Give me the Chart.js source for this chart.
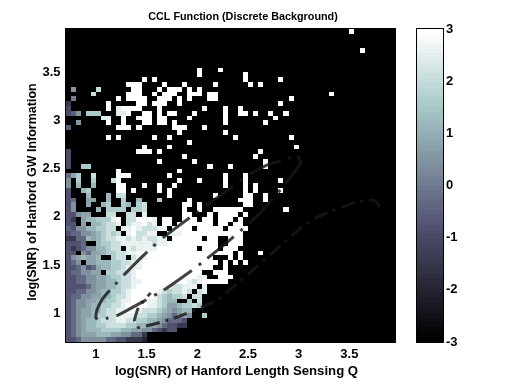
<!DOCTYPE html>
<html>
<head>
<meta charset="utf-8">
<script src="https://cdn.jsdelivr.net/npm/chart.js@4/dist/chart.umd.js"></script>
<style>
html, body { margin: 0; padding: 0; background: #fff; }
canvas { position: absolute; top: 0; }
#map { left: 0; }
#bar { left: 400px; }
</style>
</head>
<body>
<canvas id="map" width="400" height="384"></canvas>
<canvas id="bar" width="112" height="384"></canvas>
<script>
var titleText = 'CCL Function (Discrete Background)';
var xTitle = 'log(SNR) of Hanford Length Sensing Q';
var yTitle = 'log(SNR) of Hanford GW Information';
var xTicks = [1, 1.5, 2, 2.5, 3, 3.5];
var yTicks = [1, 1.5, 2, 2.5, 3, 3.5];
var barTicks = [-3, -2, -1, 0, 1, 2, 3];

// bins are 0.05 wide in both directions
var binMin = 0.7, binMax = 3.95, binSize = 0.05, binCount = 65;

// key used in the rows below -> CCL value
var levelKey = '.123456789aw';
var levelVal = [-3, -2, -1.5, -0.8, -0.3, 0.4, 0.8, 1.2, 1.6, 2.1, 2.6, 3];

// top part of the map, saturated cells only: column numbers per row (row 0 is the top)
var whiteCols = [
    [56], [], [], [], [58], [], [], [],
    [26, 30],
    [26, 35],
    [15, 17, 35, 42],
    [12, 13, 14, 19, 23, 29, 36, 38],
    [13, 14, 18, 20, 21, 22, 24, 26],
    [12, 13, 14, 17, 19, 20, 21, 24, 25, 26, 28, 29, 52],
    [10, 12, 13, 14, 15, 18, 19, 20, 22, 24, 28, 29, 44],
    [8, 14, 15, 17, 18, 19, 22, 42],
    [8, 11, 12, 13, 14, 18, 27, 31, 34],
    [12, 15, 16, 18, 20, 21, 25, 31, 34, 35, 37, 40, 43],
    [11, 14, 15, 16, 18, 19, 24, 31, 41],
    [8, 11, 15, 16, 18, 19, 21, 31, 39],
    [10, 11, 12, 14, 21, 22, 23, 27],
    [22, 31],
    [8, 10, 17, 20, 33, 44],
    [24],
    [15, 20, 45],
    [14, 15, 16, 18, 38],
    [23, 37],
    [18, 25, 39],
    [28, 32, 39],
    [10, 22]
];
// top part, the few cells that are not saturated: row, column, value
var tintRows = [12, 12, 13, 14, 15, 16, 16, 17, 17, 17, 17, 17, 17, 17, 17, 18, 18, 19, 20, 25, 26, 27, 28, 28, 28];
var tintCols = [1, 6, 5, 1, 0, 0, 10, 0, 1, 2, 4, 5, 6, 10, 11, 7, 8, 2, 0, 0, 0, 0, 0, 3, 4];
var tintVals = [0.5, 2, 2, 0, -1.5, -1, 2.5, -1, -0.5, 0.5, 1.5, 1.5, 1.5, 2.5, 2.5, 2.5, 2.5, 0.5, -0.5, -1, -1, -1, -1, 1.5, 1.5];

// lower part, rows 30 to 64, five columns per group
var lowRows = [
    '468.. 9.... www.. ..... w.... ..... .w... w....',
    '5.8.. 8...9 w.... ..... ..w.. .w... .w... w.... ..w..',
    '5.7.. 7.... ww... w..w. .w... ..... .w... w.w..',
    '3..78 ..... ww.w. ...w. w.... ..... ..... w.w.. ..w..',
    '3...7 ...7. 99... ..... w.... ....w ..... ww..w',
    '34..6 6..7. .8..7 ...8. ....w ..... ....w ww..w',
    '35..6 ..78. .87.8 9.... ...ww .w... ..... ww...',
    '35... .7.88 88.88 9.... ...w. .w..w wwwww ..... ...w.',
    '33566 ...99 ..99. a.... ...ww ...w. wwww. w....',
    '32.67 7888a w.99w wwa.w w..ww w.ww. www.w',
    '33.6. 77899 a.9aa w9a.w w.www wwww. ww.ww',
    '43557 78899 .aawa 999aa .wwww .wwww w.www w....',
    '34455 67898 9.aw9 9aa.. aaaww wwwww wwwww',
    '22447 67899 aa9a9 a99aa .wwww ww.ww ..www',
    '3334. .7889 9aaaa aa9aa wwwww wwwww ..www',
    '32345 57789 9.a9a aaaww wwwww w.www .www.',
    '33.54 66788 99aaw wwwww wwwww wwwww www.w ...w.',
    '35676 67..8 99.9a awwww wwwww wwww. ..w.w',
    '345.6 67778 899aa wwwww wwwww wwwww .w.w. w....',
    '33453 46778 89aaa wwwww wwwww wwww. .w...',
    '34455 66.88 999aw wwwww wwwww ww..w ww...',
    '33445 56678 899aw wwwww wwwww waa.. www..',
    '33445 56677 899aa wwwww wwwwa 9awww ww...',
    '33334 56677 899aw wwwww a99aa a.a..',
    '33445 56778 89aww wwwa9 899a9 .9a..',
    '34455 66778 99aww www98 7889. 99...',
    '34556 67788 9aaww waa98 77..8 .9...',
    '34556 77889 9awww waa98 66788 98...',
    '34566 77899 aawwa 99987 65677',
    '34566 78899 aaaa9 98876 54565 ..8..',
    '34567 78999 aa998 87765 4443.',
    '34567 78899 99887 76654 3322.',
    '34567 77888 87766 55432 33',
    '34566 67776 65544 2',
    '33455 55544 33222 1'
];

// contour lines
var innerX = [2.99, 2.85, 2.67, 2.48, 2.30, 1.67, 1.50, 1.28, 1.21, 1.13, 1.06, 1.01, 1.00, 1.05, 1.12, 1.22, 1.50, 1.67, 1.98, 2.30, 2.60, 2.82, 2.94, 3.02, 2.99];
var innerY = [2.64, 2.59, 2.53, 2.42, 2.28, 1.79, 1.63, 1.40, 1.32, 1.23, 1.14, 1.03, 0.95, 0.92, 0.95, 0.98, 1.14, 1.24, 1.47, 1.74, 2.02, 2.28, 2.44, 2.56, 2.64];
var outerX = [3.80, 3.75, 3.59, 3.21, 3.04, 2.20, 1.78, 1.42, 1.38, 1.42, 1.54];
var outerY = [2.10, 2.17, 2.16, 2.01, 1.90, 1.14, 0.95, 0.85, 0.92, 1.06, 1.21];
var lineColor = 'rgba(24, 24, 24, 0.82)';

// bone colormap, 64 steps
function boneColor(v) {
    var step = Math.min(63, Math.floor((v + 3) / 6 * 64));
    var t = step / 63, r, g, b;
    if (t < 0.75) r = t / 0.75 * 0.6528; else r = 0.6528 + (t - 0.75) / 0.25 * 0.3472;
    if (t < 0.375) { g = t / 0.375 * 0.328; b = t / 0.375 * 0.453; }
    else if (t < 0.75) { g = 0.328 + (t - 0.375) / 0.375 * 0.453; b = 0.453 + (t - 0.375) / 0.375 * 0.328; }
    else { g = 0.781 + (t - 0.75) / 0.25 * 0.219; b = g; }
    return 'rgb(' + Math.round(r * 255) + ',' + Math.round(g * 255) + ',' + Math.round(b * 255) + ')';
}

// scatter that paints pixel aligned rectangles instead of points
class HeatController extends Chart.ScatterController {
    draw() {
        var ctx = this.chart.ctx, meta = this.getMeta(), ds = this.getDataset();
        ds.data.forEach(function (d) {
            var x0 = Math.round(meta.xScale.getPixelForValue(d.x));
            var x1 = Math.round(meta.xScale.getPixelForValue(d.x + ds.cellW));
            var y0 = Math.round(meta.yScale.getPixelForValue(d.y));
            var y1 = Math.round(meta.yScale.getPixelForValue(d.y - ds.cellH));
            ctx.fillStyle = boneColor(d.v);
            ctx.fillRect(x0, y0, x1 - x0, y1 - y0);
        });
    }
}
HeatController.id = 'heat';
HeatController.defaults = Chart.ScatterController.defaults;
Chart.register(HeatController);

// black frame around the axes
var boxPlugin = {
    id: 'box',
    afterDraw: function (chart) {
        var a = chart.chartArea, ctx = chart.ctx;
        var left = Math.round(a.left), right = Math.round(a.right), top = Math.round(a.top), bottom = Math.round(a.bottom);
        ctx.strokeStyle = '#000';
        ctx.lineWidth = 1;
        ctx.strokeRect(left - 0.5, top - 0.5, right - left + 1, bottom - top + 1);
    }
};

// the labels sit a little off centre in the original figure
var textPlugin = {
    id: 'texts',
    afterDraw: function (chart) {
        var ctx = chart.ctx;
        ctx.save();
        ctx.fillStyle = '#000';
        ctx.textAlign = 'center';
        ctx.textBaseline = 'middle';
        ctx.font = 'bold 10.8px "Liberation Sans"';
        ctx.fillText(titleText, 243, 17);
        ctx.font = 'bold 13.2px "Liberation Sans"';
        ctx.fillText(xTitle, 236.5, 371);
        ctx.translate(33, 192);
        ctx.rotate(-Math.PI / 2);
        ctx.font = 'bold 12.5px "Liberation Sans"';
        ctx.fillText(yTitle, 0, 0);
        ctx.restore();
    }
};

var grid = [];
for (var r = 0; r < binCount; r++) {
    grid.push(new Array(binCount).fill(-3));
}
whiteCols.forEach(function (cols, row) {
    cols.forEach(function (col) { grid[row][col] = 3; });
});
tintRows.forEach(function (row, i) {
    grid[row][tintCols[i]] = tintVals[i];
});
lowRows.forEach(function (text, i) {
    text.replace(/ /g, '').split('').forEach(function (ch, col) {
        grid[30 + i][col] = levelVal[levelKey.indexOf(ch)];
    });
});

var cells = [];
grid.forEach(function (vals, row) {
    vals.forEach(function (v, col) {
        cells.push({ x: binMin + col * binSize, y: binMax - row * binSize, v: v });
    });
});

function toPoints(xs, ys) {
    return xs.map(function (x, i) { return { x: x, y: ys[i] }; });
}

var tickFont = { family: 'Liberation Sans', size: 13, weight: 'bold' };

function fixedTicks(list) {
    return function (scale) {
        scale.ticks = list.map(function (v) { return { value: v }; });
    };
}
function plainLabel(v) { return String(v); }

new Chart(document.getElementById('map'), {
    type: 'scatter',
    data: {
        datasets: [
            { type: 'line', data: toPoints(innerX, innerY), borderColor: lineColor, borderWidth: 3, borderDash: [34, 9, 3, 8], borderDashOffset: 36, pointRadius: 0, tension: 0.15, fill: false, order: 1 },
            { type: 'line', data: toPoints(outerX, outerY), borderColor: lineColor, borderWidth: 3, borderDash: [14, 6, 3, 6], pointRadius: 0, tension: 0.15, fill: false, order: 2 },
            { type: 'heat', data: cells, cellW: binSize, cellH: binSize, order: 3 }
        ]
    },
    options: {
        responsive: false,
        animation: false,
        events: [],
        layout: { padding: { left: 0, right: 2, top: 29, bottom: 0 } },
        plugins: { legend: { display: false }, tooltip: { enabled: false }, title: { display: false } },
        scales: {
            x: {
                type: 'linear', min: binMin, max: binMax,
                afterBuildTicks: fixedTicks(xTicks),
                afterFit: function (s) { s.height = 42; },
                grid: { display: false, tickLength: 0 },
                border: { display: false },
                ticks: { color: '#000', font: tickFont, maxRotation: 0, autoSkip: false, padding: 5, callback: plainLabel }
            },
            y: {
                type: 'linear', min: binMin, max: binMax,
                afterBuildTicks: fixedTicks(yTicks),
                afterFit: function (s) { s.width = 65.5; },
                grid: { display: false, tickLength: 0 },
                border: { display: false },
                ticks: { color: '#000', font: tickFont, autoSkip: false, padding: 5, callback: plainLabel }
            }
        }
    },
    plugins: [boxPlugin, textPlugin]
});

// colorbar
var barCells = [];
for (var i = 0; i < 64; i++) {
    barCells.push({ x: 0, y: -3 + (i + 1) * 6 / 64, v: -3 + (i + 0.5) * 6 / 64 });
}

new Chart(document.getElementById('bar'), {
    type: 'scatter',
    data: { datasets: [{ type: 'heat', data: barCells, cellW: 1, cellH: 6 / 64 }] },
    options: {
        responsive: false,
        animation: false,
        events: [],
        layout: { padding: { left: 17, right: 0, top: 29, bottom: 0 } },
        plugins: { legend: { display: false }, tooltip: { enabled: false }, title: { display: false } },
        scales: {
            x: { type: 'linear', min: 0, max: 1, display: false, afterFit: function (s) { s.height = 42; } },
            y: {
                type: 'linear', position: 'right', min: -3, max: 3,
                afterBuildTicks: fixedTicks(barTicks),
                afterFit: function (s) { s.width = 69; },
                grid: { drawOnChartArea: false, tickColor: '#000', tickLength: -3 },
                border: { display: false },
                ticks: { color: '#000', font: tickFont, autoSkip: false, padding: 6, callback: plainLabel }
            },
            yLeft: {
                type: 'linear', position: 'left', min: -3, max: 3,
                afterBuildTicks: fixedTicks(barTicks),
                afterFit: function (s) { s.width = 0; },
                grid: { drawOnChartArea: false, tickColor: '#000', tickLength: -3 },
                border: { display: false },
                ticks: { display: false }
            }
        }
    },
    plugins: [boxPlugin]
});
</script>
</body>
</html>
